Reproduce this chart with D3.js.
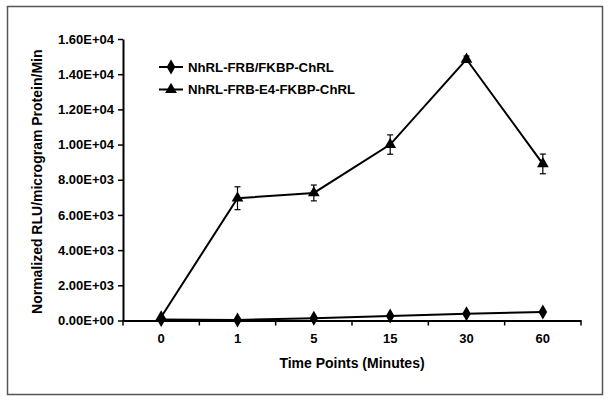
<!DOCTYPE html>
<html><head><meta charset="utf-8">
<script src="https://cdn.jsdelivr.net/npm/d3@7"></script>
<style>body{margin:0;background:#fff;} svg{display:block;} text{font-family:"Liberation Sans",Arial,sans-serif;font-weight:bold;fill:#000;}</style>
</head><body>
<svg id="c" width="613" height="403"></svg>
<script>
const categories = ["0","1","5","15","30","60"];
const seriesNames = ["NhRL-FRB/FKBP-ChRL","NhRL-FRB-E4-FKBP-ChRL"];
const diamondValues = [50, 30, 130, 250, 390, 480];
const triangleValues = [200, 6950, 7250, 10000, 14850, 8900];
const triangleErrors = [0, 650, 450, 550, 180, 560];
const yTicks = [0, 2000, 4000, 6000, 8000, 10000, 12000, 14000, 16000];

const svg = d3.select("#c");
const L = 123, R = 581, T = 39, B = 320.5;
svg.append("rect").attr("x",7.5).attr("y",6.5).attr("width",595).attr("height",388)
  .attr("fill","none").attr("stroke","#555").attr("stroke-width",1.5);

const x = d3.scaleBand().domain(categories).range([L,R]);
const y = d3.scaleLinear().domain([0,16000]).range([B,T]);
const fmt = v => { if (v===0) return "0.00E+00"; const e=Math.floor(Math.log10(v)); return (v/Math.pow(10,e)).toFixed(2)+"E+"+String(e).padStart(2,"0"); };

const ya = svg.append("g").attr("transform",`translate(${L},0)`)
  .call(d3.axisLeft(y).tickValues(yTicks).tickFormat(fmt).tickSize(5).tickSizeOuter(0).tickPadding(4));
const xa = svg.append("g").attr("transform",`translate(0,${B})`)
  .call(d3.axisBottom(x).tickSize(0).tickPadding(13));
xa.selectAll(".bnd").data(d3.range(categories.length+1)).enter().append("line")
  .attr("x1",i=>L+i*x.step()).attr("x2",i=>L+i*x.step()).attr("y1",0).attr("y2",5)
  .attr("stroke","#000").attr("stroke-width",1.5);
[ya,xa].forEach(a=>{a.selectAll(".domain").attr("stroke","#000").attr("stroke-width",2);
  a.selectAll(".tick line").attr("stroke","#000").attr("stroke-width",1.5);
  a.selectAll("text").style("font-size","13px").style("font-family","Liberation Sans, Arial").style("font-weight","bold");});

svg.append("text").attr("x",(L+R)/2).attr("y",368).attr("text-anchor","middle").style("font-size","14px").text("Time Points (Minutes)");
svg.append("text").attr("transform",`translate(42,${(T+B)/2+2}) rotate(-90)`).attr("text-anchor","middle").style("font-size","14px").text("Normalized RLU/microgram Protein/Min");

const cx = d => x(d)+x.bandwidth()/2;
const line = d3.line().x((d,i)=>cx(categories[i])).y(d=>y(d));
const diamond = d3.symbol().type(d3.symbolDiamond).size(65);
const tri = d3.symbol().type(d3.symbolTriangle).size(60);

const eg = svg.append("g").attr("stroke","#000").attr("stroke-width",1.2);
triangleValues.forEach((v,i)=>{ const e=triangleErrors[i]; if(!e) return; const xx=cx(categories[i]);
  eg.append("line").attr("x1",xx).attr("x2",xx).attr("y1",y(v+e)).attr("y2",y(v-e));
  eg.append("line").attr("x1",xx-3).attr("x2",xx+3).attr("y1",y(v+e)).attr("y2",y(v+e));
  eg.append("line").attr("x1",xx-3).attr("x2",xx+3).attr("y1",y(v-e)).attr("y2",y(v-e));
});

svg.append("path").attr("d",line(diamondValues)).attr("fill","none").attr("stroke","#000").attr("stroke-width",2);
svg.append("path").attr("d",line(triangleValues)).attr("fill","none").attr("stroke","#000").attr("stroke-width",2);
svg.selectAll(".dm").data(diamondValues).enter().append("path")
  .attr("d",diamond).attr("transform",(d,i)=>`translate(${cx(categories[i])},${y(d)})`).attr("fill","#000");
svg.selectAll(".tr").data(triangleValues).enter().append("path")
  .attr("d",tri).attr("transform",(d,i)=>`translate(${cx(categories[i])},${y(d)})`).attr("fill","#000");

const lg = svg.append("g");
seriesNames.forEach((n,i)=>{ const yy = 67 + i*22.5;
  lg.append("line").attr("x1",159).attr("x2",183).attr("y1",yy).attr("y2",yy).attr("stroke","#000").attr("stroke-width",2);
  lg.append("path").attr("d", i===0?diamond:tri).attr("transform",`translate(171,${yy})`).attr("fill","#000");
  lg.append("text").attr("x",188).attr("y",yy).attr("dy","0.35em").style("font-size","13.2px").text(n);
});
</script>
</body></html>
